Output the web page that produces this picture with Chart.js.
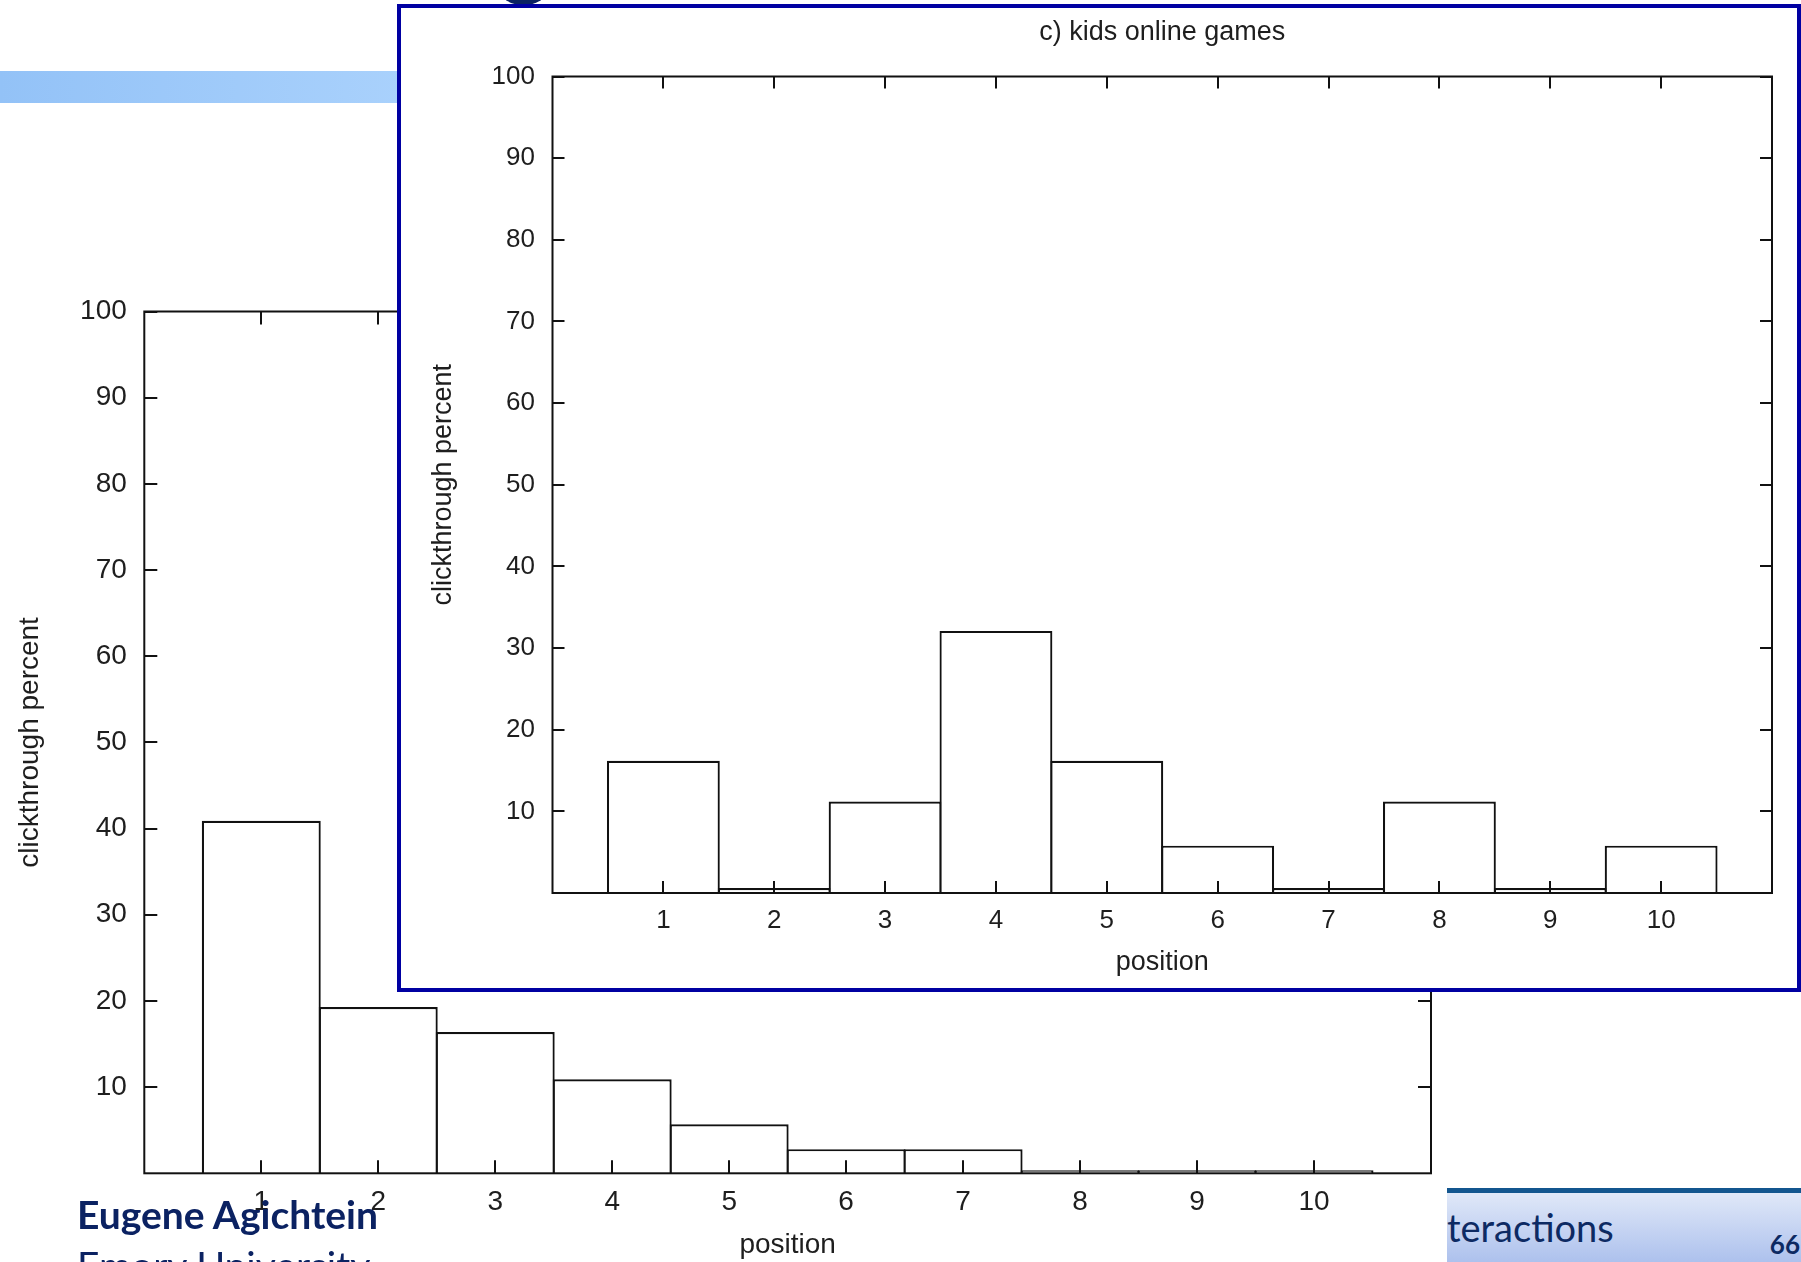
<!DOCTYPE html>
<html>
<head>
<meta charset="utf-8">
<script src="https://cdn.jsdelivr.net/npm/chart.js@4"></script>
<style>
  html, body { margin: 0; padding: 0; background: #fff; }
  body { width: 1801px; height: 1262px; position: relative; overflow: hidden; }
  .band { position: absolute; left: 0; top: 71px; width: 400px; height: 32px;
          background: linear-gradient(to right, #93c2f7, #a9d1fc); }
  .blob { position: absolute; left: 500px; top: -24px; width: 47px; height: 29px;
          border-radius: 50%; background: #0b2262; }
  #bg { position: absolute; left: 0; top: 0; }
  .author { position: absolute; left: 77px; top: 1189px; font-family: Lato, "Noto Sans", sans-serif;
            color: #0b2262; font-size: 39px; line-height: 51px; white-space: nowrap; }
  .author b { font-weight: 700; }
  .footer { position: absolute; left: 1447px; top: 1188px; width: 354px; height: 74px;
            border-top: 5px solid #13568f; box-sizing: border-box;
            background: linear-gradient(to bottom, #e0e8f8, #adc1ed); overflow: hidden;
            font-family: Lato, "Noto Sans", sans-serif; color: #0d2a63; }
  .footer .t { position: absolute; left: 0; top: 12px; font-size: 38px; line-height: 44px; white-space: nowrap; }
  .footer .n { position: absolute; right: 1px; top: 36px; font-size: 26px; font-weight: 700; line-height: 30px; }
  .inset { position: absolute; left: 397px; top: 4px; width: 1404px; height: 988px;
           box-sizing: border-box; border: 4px solid #0000a2; background: #fff; }
  #kids { position: absolute; left: 0; top: 0; }
</style>
</head>
<body>
<div class="band"></div>
<div class="blob"></div>
<canvas id="bg" width="1801" height="1262" style="width:1801px;height:1262px"></canvas>
<div class="author"><b>Eugene Agichtein</b><br>Emory University</div>
<div class="footer"><div class="t">teractions</div><div class="n">66</div></div>
<div class="inset">
  <canvas id="kids" width="1396" height="980" style="width:1396px;height:980px"></canvas>
</div>
<script>
// result positions on the page
const positions = [1, 2, 3, 4, 5, 6, 7, 8, 9, 10];
// clickthrough percent, all queries (background plot)
const allQueriesCtr = [40.9, 19.3, 16.4, 10.9, 5.7, 2.8, 2.8, 0.35, 0.35, 0.35];
// clickthrough percent, query "kids online games" (inset)
const kidsGamesCtr = [16.2, 0.6, 11.2, 32.1, 16.2, 5.8, 0.6, 11.2, 0.6, 5.8];
const yTickValues = [10, 20, 30, 40, 50, 60, 70, 80, 90, 100];
const xTickValues = positions;

Chart.defaults.animation = false;
Chart.defaults.font.family = '"Liberation Sans", Arial, sans-serif';
Chart.defaults.color = '#1e1e1e';

// gnuplot style frame with inward ticks on all four sides
const frameTicks = {
    id: 'frameTicks',
    afterDatasetsDraw(chart, args, opts) {
        const ctx = chart.ctx, a = chart.chartArea;
        const x = chart.scales.x, y = chart.scales.y;
        const len = opts.length;
        ctx.save();
        ctx.strokeStyle = '#111';
        ctx.lineWidth = 2;
        ctx.beginPath();
        x.ticks.forEach(t => {
            const px = Math.round(x.getPixelForValue(t.value));
            ctx.moveTo(px, a.bottom); ctx.lineTo(px, a.bottom - len);
            ctx.moveTo(px, a.top); ctx.lineTo(px, a.top + len);
        });
        y.ticks.forEach(t => {
            const py = Math.round(y.getPixelForValue(t.value));
            ctx.moveTo(a.left, py); ctx.lineTo(a.left + len, py);
            ctx.moveTo(a.right, py); ctx.lineTo(a.right - len, py);
        });
        ctx.stroke();
        ctx.strokeRect(a.left, a.top, a.right - a.left, a.bottom - a.top);
        ctx.restore();
    }
};

function histogram(id, values, s) {
    return new Chart(document.getElementById(id), {
        type: 'bar',
        data: {
            datasets: [{
                data: positions.map((p, i) => ({x: p, y: values[i]})),
                backgroundColor: '#fff',
                borderColor: '#111',
                borderWidth: 2.2,
                barPercentage: 1,
                categoryPercentage: s.overlap
            }]
        },
        options: {
            responsive: false,
            layout: {padding: s.padding},
            plugins: {
                legend: {display: false},
                tooltip: {enabled: false},
                title: s.title ? {
                    display: true, text: s.title, fullSize: false, color: '#1e1e1e',
                    font: {size: s.titleSize, weight: 'normal'},
                    padding: s.titlePadding
                } : {display: false},
                frameTicks: {length: s.tick}
            },
            scales: {
                x: {
                    type: 'linear', min: 0, max: 11, offset: false,
                    afterBuildTicks: sc => { sc.ticks = xTickValues.map(v => ({value: v})); },
                    afterFit: sc => { sc.height = s.xHeight; },
                    grid: {display: false, drawTicks: false, offset: false},
                    border: {display: false},
                    ticks: {font: {size: s.fontSize}, padding: s.xTickPad, maxRotation: 0, autoSkip: false},
                    title: {display: true, text: 'position', font: {size: s.labelSize},
                            padding: {top: 0, bottom: s.xTitlePad}}
                },
                y: {
                    min: 0, max: 100,
                    afterBuildTicks: sc => { sc.ticks = yTickValues.map(v => ({value: v})); },
                    afterFit: sc => { sc.width = s.yWidth; },
                    grid: {display: false, drawTicks: false},
                    border: {display: false},
                    ticks: {font: {size: s.fontSize}, padding: s.yTickPad},
                    title: {display: true, text: 'clickthrough percent', font: {size: s.labelSize},
                            padding: {top: s.yTitlePad, bottom: 0}}
                }
            }
        },
        plugins: [frameTicks]
    });
}

histogram('bg', allQueriesCtr, {
    overlap: 1.017,
    padding: {left: 0, top: 311.5, right: 370, bottom: 0},
    fontSize: 28, labelSize: 28, tick: 13,
    xHeight: 88.7, yWidth: 144.3,
    xTickPad: 12, yTickPad: 17.5, xTitlePad: 0, yTitlePad: 13
});

histogram('kids', kidsGamesCtr, {
    overlap: 1.018,
    padding: {left: 0, top: 0, right: 25, bottom: 0},
    fontSize: 26, labelSize: 27, tick: 12,
    title: 'c) kids online games', titleSize: 27,
    titlePadding: {top: 8.8, bottom: 27.3},
    xHeight: 95, yWidth: 151.5,
    xTickPad: 12.4, yTickPad: 17.5, xTitlePad: 9.3, yTitlePad: 26
});
</script>
</body>
</html>
